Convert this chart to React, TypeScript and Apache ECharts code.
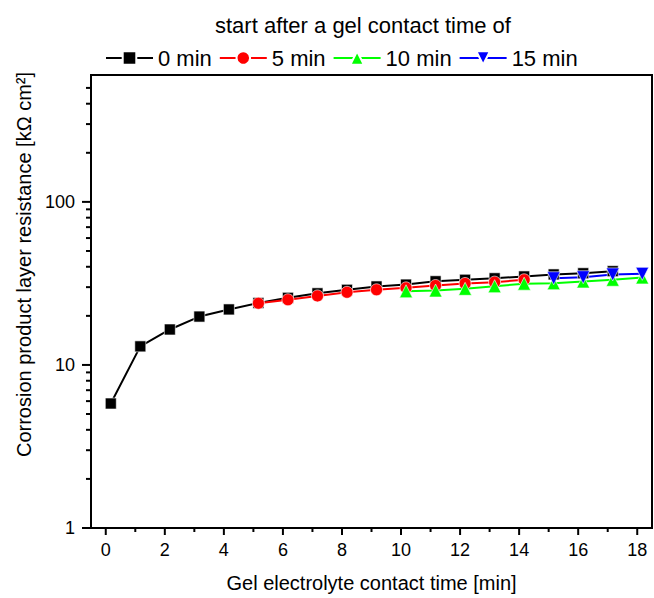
import React, { useEffect, useRef } from "react";
import * as echarts from "echarts";

const X_MIN = -0.5;
const X_MAX = 18.5;
const Y_MIN = 1;
const Y_MAX = 600;

const x0min = [0.17, 1.17, 2.17, 3.17, 4.17, 5.17, 6.17, 7.17, 8.17, 9.17, 10.17, 11.17, 12.17, 13.17, 14.17, 15.17, 16.17, 17.17];
const y0min = [5.8, 13.0, 16.5, 19.8, 21.9, 24.0, 25.8, 27.5, 28.9, 30.3, 31.1, 32.6, 33.3, 34.0, 34.9, 35.9, 36.5, 37.6];

const x5min = [5.17, 6.17, 7.17, 8.17, 9.17, 10.17, 11.17, 12.17, 13.17, 14.17];
const y5min = [23.9, 25.1, 26.5, 27.9, 28.9, 29.7, 30.7, 31.6, 32.2, 33.3];

const x10min = [10.17, 11.17, 12.17, 13.17, 14.17, 15.17, 16.17, 17.17, 18.17];
const y10min = [28.3, 28.6, 29.3, 30.4, 31.5, 31.7, 32.5, 33.3, 34.4];

const x15min = [15.17, 16.17, 17.17, 18.17];
const y15min = [34.0, 34.5, 35.9, 36.2];

const xLabelValues = [0, 2, 4, 6, 8, 10, 12, 14, 16, 18];
const xTickValues = [0, 1, 2, 3, 4, 5, 6, 7, 8, 9, 10, 11, 12, 13, 14, 15, 16, 17, 18];
const yTickValues = [1, 2, 3, 4, 5, 6, 7, 8, 9, 10, 20, 30, 40, 50, 60, 70, 80, 90, 100, 200, 300, 400, 500];

const seriesNames = ["0 min", "5 min", "10 min", "15 min"];

const FONT = "Liberation Sans, Arial, sans-serif";

const zip = (xs: number[], ys: number[]) => xs.map((x, i) => [x, ys[i]]);

export default function App() {
  const ref = useRef<HTMLDivElement>(null);
  useEffect(() => {
    if (!ref.current) return;
    const chart = echarts.init(ref.current, undefined, { renderer: "svg" });
    const lineSeries = (name: string, data: number[][], color: string, symbol: string, size: number) => ({
      name,
      type: "line",
      data,
      symbol,
      symbolSize: size,
      showSymbol: true,
      lineStyle: { color, width: 2 },
      itemStyle: { color, borderColor: "#ffffff", borderWidth: 0.6 },
      emphasis: { disabled: true },
    });
    const option: any = {
      animation: false,
      textStyle: { fontFamily: FONT, color: "#000" },
      title: {
        text: "start after a gel contact time of",
        left: 215,
        top: 14,
        padding: 0,
        textStyle: { fontFamily: FONT, fontSize: 22, fontWeight: "normal", color: "#000" },
      },
      legend: {
        data: seriesNames,
        left: 105,
        top: 47,
        padding: 0,
        itemGap: 7,
        itemWidth: 47,
        itemHeight: 17,
        textStyle: { fontFamily: FONT, fontSize: 22, color: "#000" },
      },
      grid: {
        left: 91,
        right: 2,
        top: 75,
        bottom: 70,
        show: true,
        borderColor: "#000",
        borderWidth: 2,
        backgroundColor: "transparent",
        outerBoundsMode: "none",
        containLabel: false,
      },
      xAxis: {
        type: "value",
        min: X_MIN,
        max: X_MAX,
        name: "Gel electrolyte contact time [min]",
        nameLocation: "middle",
        nameGap: 45,
        nameTextStyle: { fontFamily: FONT, fontSize: 20, color: "#000" },
        axisLine: { show: true, onZero: false, lineStyle: { color: "#000", width: 2 } },
        axisTick: { show: false },
        splitLine: { show: false },
        axisLabel: {
          customValues: xLabelValues,
          margin: 13,
          fontFamily: FONT,
          fontSize: 18,
          color: "#000",
        },
      },
      yAxis: {
        type: "log",
        logBase: 10,
        min: Y_MIN,
        max: Y_MAX,
        name: "Corrosion product layer resistance [kΩ cm²]",
        nameLocation: "middle",
        nameGap: 52,
        nameTextStyle: { fontFamily: FONT, fontSize: 20, color: "#000", padding: [0, 0, 0, 74] },
        axisLine: { show: true, onZero: false, lineStyle: { color: "#000", width: 2 } },
        axisTick: { show: false },
        splitLine: { show: false },
        axisLabel: {
          margin: 16,
          fontFamily: FONT,
          fontSize: 18,
          color: "#000",
          showMaxLabel: false,
          formatter: (v: number) => {
            const l = Math.log10(v);
            return Math.abs(l - Math.round(l)) < 1e-6 ? String(Math.round(v)) : "";
          },
        },
      },
      series: [
        {
          type: "custom",
          name: "xticks",
          silent: true,
          clip: false,
          data: xTickValues.map((v) => [v, Y_MIN]),
          renderItem: (params: any, api: any) => {
            const v = api.value(0);
            const p = api.coord([v, Y_MIN]);
            const len = Math.round(v) % 2 === 0 ? 7 : 4;
            return {
              type: "line",
              shape: { x1: p[0], y1: p[1], x2: p[0], y2: p[1] + len },
              style: { stroke: "#000", lineWidth: 2 },
            };
          },
        },
        {
          type: "custom",
          name: "yticks",
          silent: true,
          clip: false,
          data: yTickValues.map((v) => [X_MIN, v]),
          renderItem: (params: any, api: any) => {
            const v = api.value(1);
            const p = api.coord([X_MIN, v]);
            const l = Math.log10(v);
            const major = Math.abs(l - Math.round(l)) < 1e-6;
            const len = major ? 9 : 5;
            return {
              type: "line",
              shape: { x1: p[0] - len, y1: p[1], x2: p[0], y2: p[1] },
              style: { stroke: "#000", lineWidth: 2 },
            };
          },
        },
        lineSeries(seriesNames[0], zip(x0min, y0min), "#000000", "rect", 11),
        lineSeries(seriesNames[1], zip(x5min, y5min), "#ff0000", "circle", 12),
        lineSeries(seriesNames[2], zip(x10min, y10min), "#00ff00", "triangle", 13),
        lineSeries(seriesNames[3], zip(x15min, y15min), "#0000ff", "path://M0,0 L10,0 L5,9 Z", 13),
      ],
    };
    chart.setOption(option);
    return () => chart.dispose();
  }, []);
  return (
    <div
      ref={ref}
      style={{ position: "fixed", left: 0, top: 0, width: 654, height: 598, background: "#fff" }}
    />
  );
}
